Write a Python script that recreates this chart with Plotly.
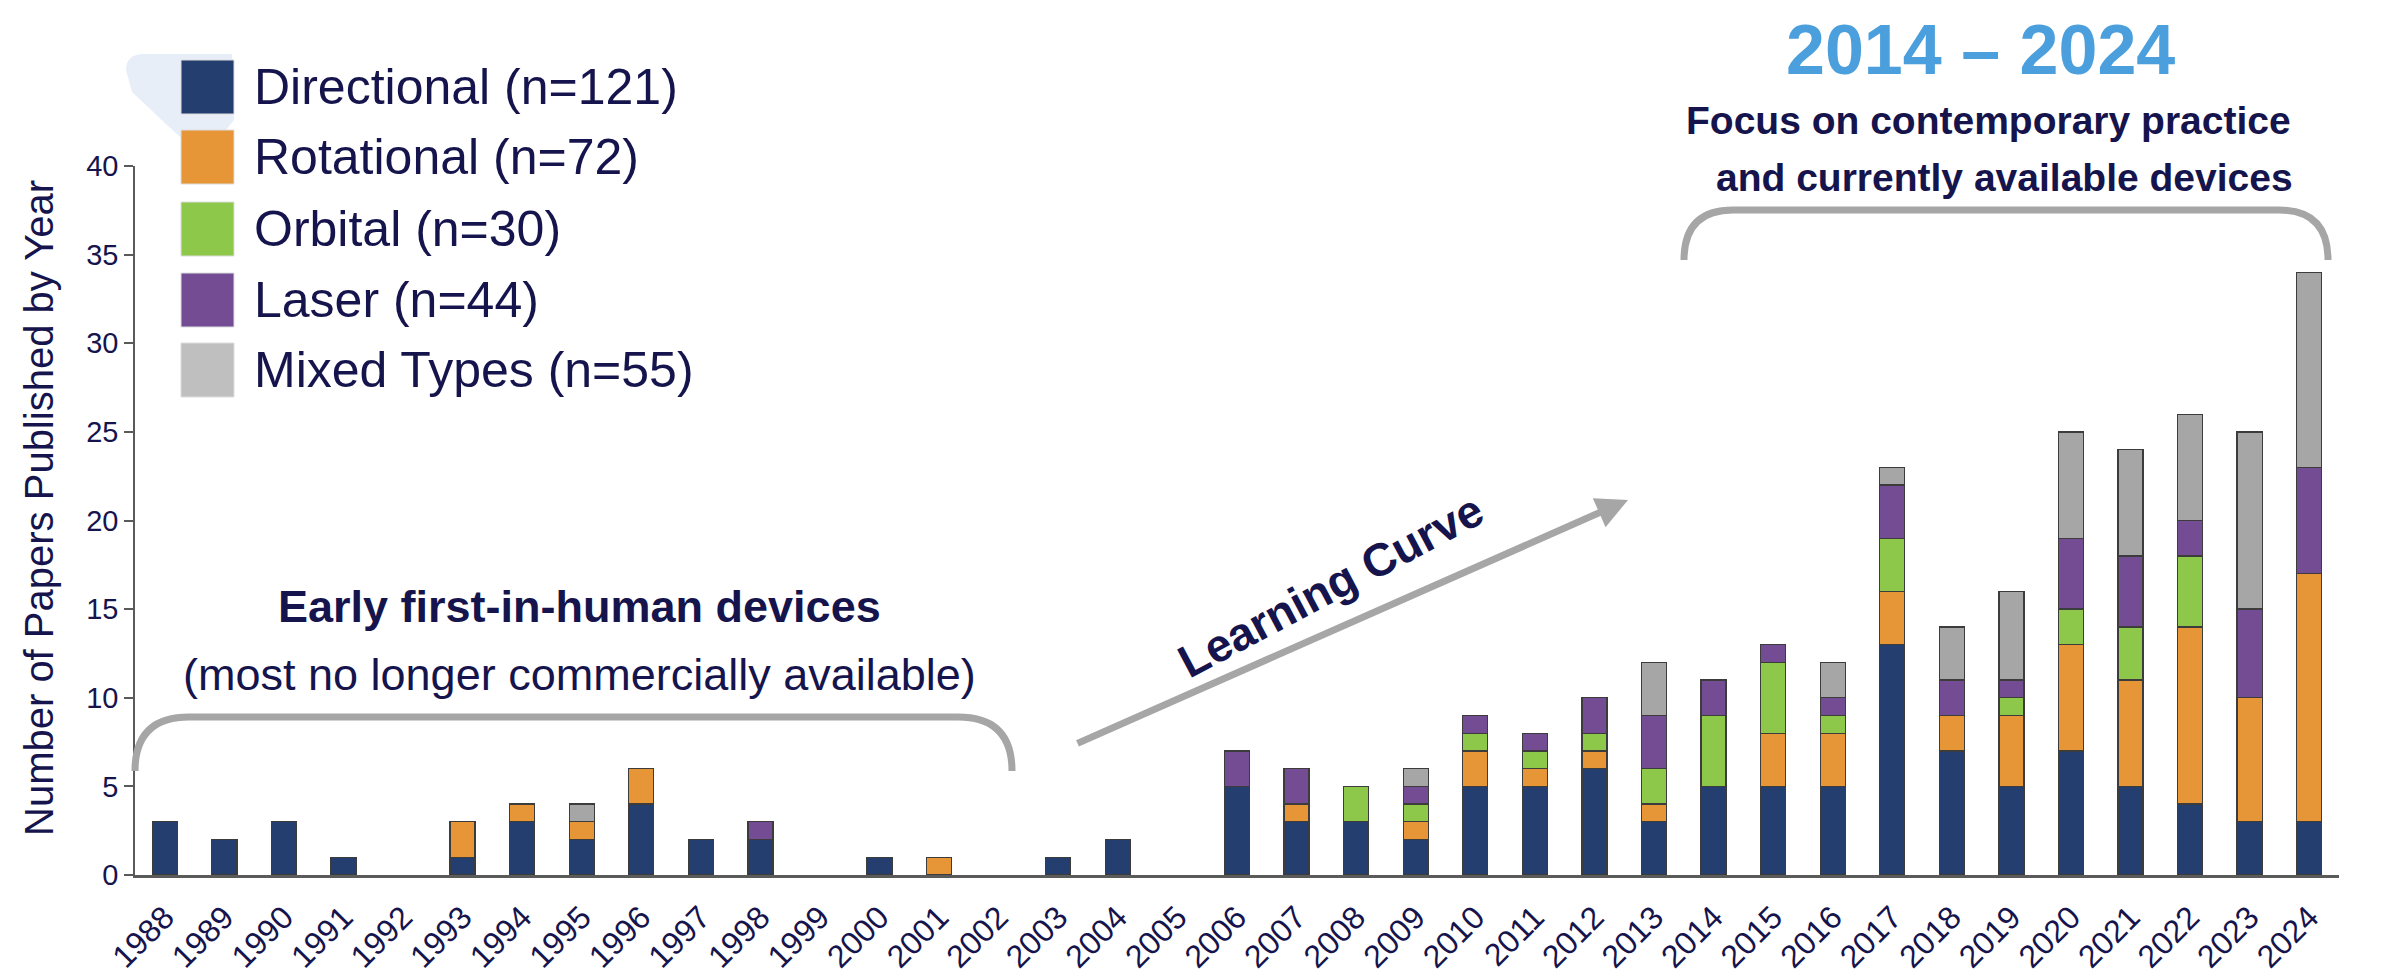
import plotly.graph_objects as go

# ---------------- data ----------------
years = [str(y) for y in range(1988, 2025)]
directional = [3, 2, 3, 1, 0, 1, 3, 2, 4, 2, 2, 0, 1, 0, 0, 1, 2, 0, 5, 3, 3, 2, 5, 5, 6, 3, 5, 5, 5, 13, 7, 5, 7, 5, 4, 3, 3]
rotational  = [0, 0, 0, 0, 0, 2, 1, 1, 2, 0, 0, 0, 0, 1, 0, 0, 0, 0, 0, 1, 0, 1, 2, 1, 1, 1, 0, 3, 3, 3, 2, 4, 6, 6, 10, 7, 14]
orbital     = [0, 0, 0, 0, 0, 0, 0, 0, 0, 0, 0, 0, 0, 0, 0, 0, 0, 0, 0, 0, 2, 1, 1, 1, 1, 2, 4, 4, 1, 3, 0, 1, 2, 3, 4, 0, 0]
laser       = [0, 0, 0, 0, 0, 0, 0, 0, 0, 0, 1, 0, 0, 0, 0, 0, 0, 0, 2, 2, 0, 1, 1, 1, 2, 3, 2, 1, 1, 3, 2, 1, 4, 4, 2, 5, 6]
mixed       = [0, 0, 0, 0, 0, 0, 0, 1, 0, 0, 0, 0, 0, 0, 0, 0, 0, 0, 0, 0, 0, 1, 0, 0, 0, 3, 0, 0, 2, 1, 3, 5, 6, 6, 6, 10, 11]

series_names = ["Directional (n=121)", "Rotational (n=72)", "Orbital (n=30)", "Laser (n=44)", "Mixed Types (n=55)"]
series_vals = [directional, rotational, orbital, laser, mixed]
bar_colors = ["#243F6F", "#E69537", "#8DC84A", "#744C93", "#A6A6A6"]
legend_colors = ["#243F6F", "#E69537", "#8DC84A", "#744C93", "#BFBFBF"]

y_ticks = [0, 5, 10, 15, 20, 25, 30, 35, 40]

# ---------------- layout geometry (pixels in 2387x978 page) ----------------
W, H = 2387, 978
L, R, T, B = 127, 2331, 158, 867   # plot area edges

def px(x):
    return (x - L) / (R - L)

def py(y):
    return (B - y) / (B - T)

NAVY = "#16144C"
GREY = "#A6A6A6"
FONT = "Liberation Sans, Arial, sans-serif"

fig = go.Figure()
for name, vals, col in zip(series_names, series_vals, bar_colors):
    fig.add_trace(go.Bar(
        x=years, y=[v if v else None for v in vals], name=name,
        marker=dict(color=col, line=dict(color="#3C3C3C", width=1.3)),
        showlegend=False,
    ))

shapes = []
annotations = []

def txt(text, x, y, size, color=NAVY, angle=0, family=FONT, xanchor="center"):
    annotations.append(dict(text=text, xref="paper", yref="paper", x=px(x), y=py(y),
                            xanchor=xanchor, yanchor="middle", textangle=angle,
                            showarrow=False, font=dict(family=family, size=size, color=color)))

# faint blue artifact behind legend
shapes.append(dict(
    type="path", xref="paper", yref="paper",
    path=(f"M {px(118)},{py(62)} Q {px(118)},{py(46)} {px(136)},{py(46)} "
          f"L {px(224)},{py(46)} L {px(226)},{py(112)} L {px(196)},{py(150)} "
          f"L {px(160)},{py(118)} L {px(124)},{py(84)} Z"),
    fillcolor="rgba(170,195,230,0.28)", line=dict(width=0), layer="below"))

# custom legend
row_y = [79, 149, 221, 292, 362]
for name, col, yy in zip(series_names, legend_colors, row_y):
    shapes.append(dict(type="rect", xref="paper", yref="paper",
                       x0=px(173), x1=px(226), y0=py(yy + 27), y1=py(yy - 27),
                       fillcolor=col, line=dict(color="#DDDDDD", width=1)))
    txt(name, 244, yy, 50, xanchor="left")

# y-axis title
txt("Number of Papers Published by Year", 31, 500, 40, angle=-90)

# left bracket
shapes.append(dict(type="path", xref="paper", yref="paper",
                   path=(f"M {px(127)},{py(763)} Q {px(127)},{py(709)} {px(181)},{py(709)} "
                         f"L {px(950)},{py(709)} Q {px(1004)},{py(709)} {px(1004)},{py(763)}"),
                   line=dict(color=GREY, width=7)))
# right bracket
shapes.append(dict(type="path", xref="paper", yref="paper",
                   path=(f"M {px(1676)},{py(252)} Q {px(1676)},{py(202)} {px(1725)},{py(202)} "
                         f"L {px(2271)},{py(202)} Q {px(2320)},{py(202)} {px(2320)},{py(252)}"),
                   line=dict(color=GREY, width=7)))

# Learning curve arrow
annotations.append(dict(text="", xref="paper", yref="paper", x=px(1620), y=py(492),
                        ax=1068 - 1620, ay=736 - 492, axref="pixel", ayref="pixel",
                        showarrow=True, arrowhead=2, arrowsize=0.9, arrowwidth=7,
                        arrowcolor=GREY, standoff=0, startstandoff=0))
txt("<b>Learning Curve</b>", 1322, 578, 46, angle=-28)

# early devices text
txt("<b>Early first-in-human devices</b>", 571, 598, 45)
txt("(most no longer commercially available)", 571, 666, 45)

# 2014-2024 texts
txt("<b>2014 – 2024</b>", 1972, 42, 70, color="#4A9FDC",
    family="Liberation Sans Narrow, Arial Narrow, " + FONT)
txt("<b>Focus on contemporary practice</b>", 1980, 112, 39)
txt("<b>and currently available devices</b>", 1996, 170, 39)

fig.update_layout(
    width=W, height=H,
    barmode="stack", bargap=0.58,
    plot_bgcolor="white", paper_bgcolor="white",
    margin=dict(l=L, r=W - R, t=T, b=H - B, pad=0),
    shapes=shapes, annotations=annotations,
    font=dict(family=FONT, color=NAVY),
    xaxis=dict(type="category", range=[-0.5, len(years) - 0.5], tickangle=-45,
               tickfont=dict(family=FONT, size=32, color=NAVY),
               showline=True, linecolor="#5A5A5A", linewidth=2.5, ticks="",
               showgrid=False, zeroline=False, ticklabelstandoff=8),
    yaxis=dict(range=[0, 40], tickvals=y_ticks, ticks="outside", ticklen=9,
               tickcolor="#5A5A5A", tickwidth=1.5,
               tickfont=dict(family=FONT, size=29, color=NAVY),
               showline=True, linecolor="#5A5A5A", linewidth=1.5,
               showgrid=False, zeroline=False),
)

fig.write_html("out.html")
